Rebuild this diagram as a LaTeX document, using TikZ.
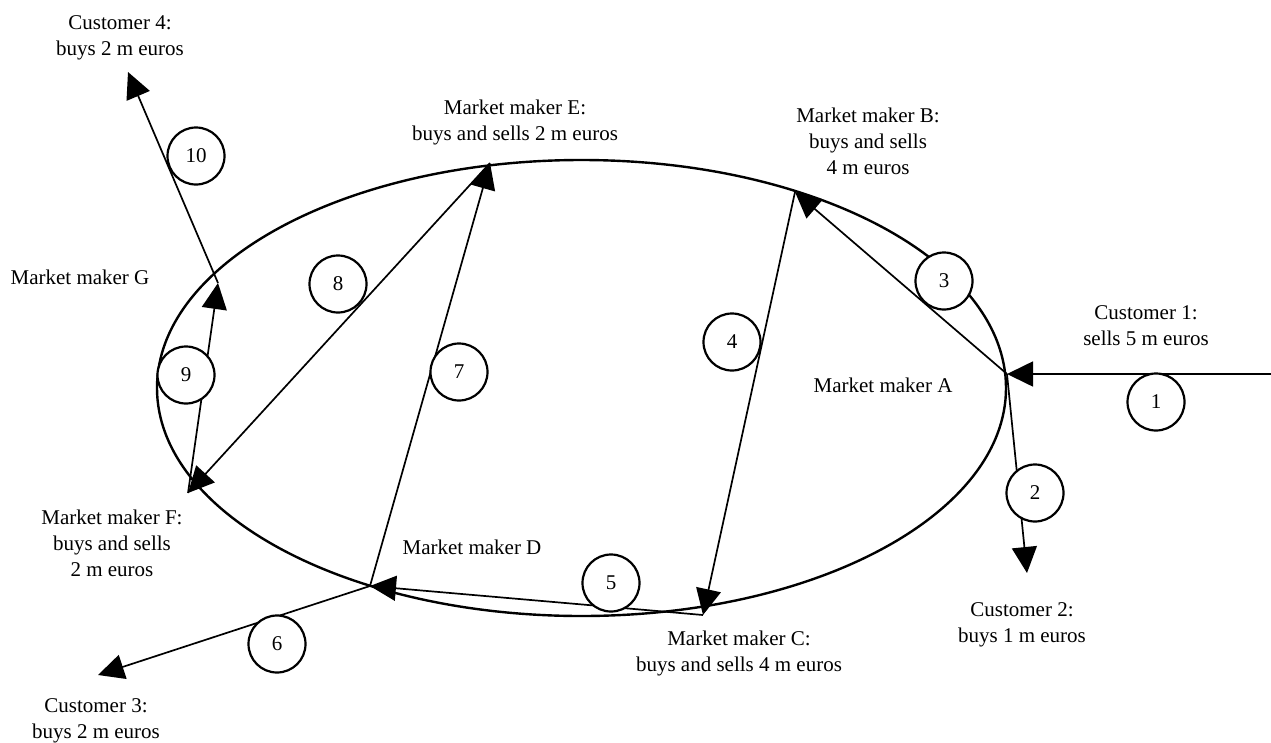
\documentclass[tikz,border=0pt]{standalone}
\usepackage{fontspec}
\setmainfont{Liberation Serif}
\usetikzlibrary{arrows.meta}
\begin{document}
\begin{tikzpicture}[x=1pt,y=-1pt,
  flow/.style={line width=1.7pt,-{Triangle[length=26pt,width=25pt]}},
  num/.style={circle,draw,line width=2.2pt,fill=white,minimum size=57pt,inner sep=0pt,font=\fontsize{21}{26}\selectfont},
  lbl/.style={align=center,font=\fontsize{21}{26}\selectfont,inner sep=0pt}]
\useasboundingbox (0,0) rectangle (1271,742);
% ring of market makers
\draw[line width=2.4pt] (581.5,388) ellipse [x radius=424.5pt, y radius=228pt];
% points
\coordinate (A) at (1007,374);
\coordinate (B) at (795,192);
\coordinate (C) at (703,615);
\coordinate (D) at (370,586);
\coordinate (E) at (490,163);
\coordinate (F) at (188,493);
\coordinate (G) at (218,283);
\coordinate (c1) at (1271,374);
\coordinate (c2) at (1027,573);
\coordinate (c3) at (98,675);
\coordinate (c4) at (128,72);
% flows
\draw[flow] (c1) -- (A);
\draw[flow] (A) -- (c2);
\draw[flow] (A) -- (B);
\draw[flow] (B) -- (C);
\draw[flow] (C) -- (D);
\draw[flow] (D) -- (c3);
\draw[flow] (D) -- (E);
\draw[flow] (E) -- (F);
\draw[flow] (F) -- (G);
\draw[flow] (G) -- (c4);
% numbers
\node[num] (n1) at (1156,402) {1};
\node[num] (n2) at (1035,493) {2};
\node[num] (n3) at (944,281) {3};
\node[num] (n4) at (732,342) {4};
\node[num] (n5) at (611,583) {5};
\node[num] (n6) at (277,644) {6};
\node[num] (n7) at (459,372) {7};
\node[num] (n8) at (338,284) {8};
\node[num] (n9) at (186,375) {9};
\node[num] (n10) at (196,156) {10};
% labels
\node[lbl] (l4) at (120,38) {Customer 4:\\buys 2 m euros};
\node[lbl] (lE) at (515,122) {Market maker E:\\buys and sells 2 m euros};
\node[lbl] (lB) at (868,141) {Market maker B:\\buys and sells\\4 m euros};
\node[lbl] (lG) at (80,277) {Market maker G};
\node[lbl] (l1) at (1146,326) {Customer 1:\\sells 5 m euros};
\node[lbl] (lA) at (883,385) {Market maker A};
\node[lbl] (l2) at (1022,625) {Customer 2:\\buys 1 m euros};
\node[lbl] (lC) at (739,653) {Market maker C:\\buys and sells 4 m euros};
\node[lbl] (lD) at (472,547) {Market maker D};
\node[lbl] (lF) at (112,543) {Market maker F:\\buys and sells\\2 m euros};
\node[lbl] (l3) at (96,721) {Customer 3:\\buys 2 m euros};
\end{tikzpicture}
\end{document}
